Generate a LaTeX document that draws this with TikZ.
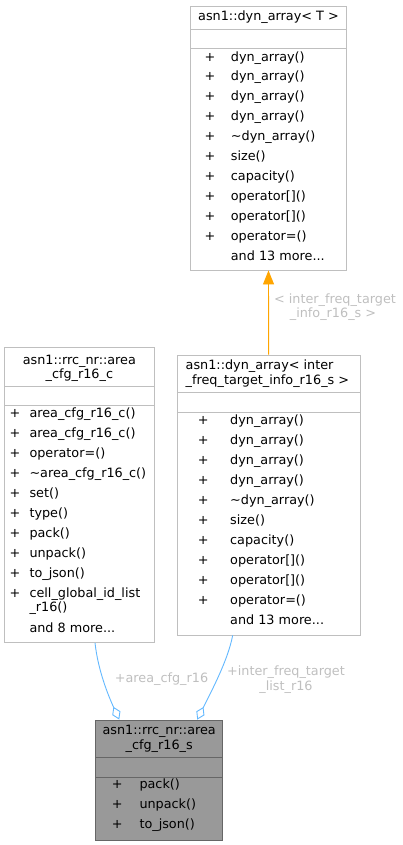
\documentclass[tikz,border=0pt]{standalone}
\usepackage{fontspec}
\setmainfont{DejaVu Sans}
\usetikzlibrary{arrows.meta}
\definecolor{boxline}{HTML}{BFBFBF}
\definecolor{lbl}{HTML}{BFBFBF}
\definecolor{edgeblue}{HTML}{63B8FF}
\definecolor{edgeorange}{HTML}{FFA500}
\definecolor{darkfill}{HTML}{999999}
\definecolor{darkline}{HTML}{666666}
\tikzset{
  cls/.style={draw=boxline, line width=0.9pt, fill=white, inner sep=0pt},
  clsdark/.style={draw=darkline, line width=0.9pt, fill=darkfill, inner sep=0pt},
  tx/.style={font=\fontsize{12.8}{15}\selectfont, inner sep=0pt, anchor=mid west},
  tc/.style={font=\fontsize{12.8}{15}\selectfont, inner sep=0pt, anchor=mid},
  pl/.style={font=\fontsize{12.8}{15}\selectfont, inner sep=0pt, anchor=mid},
  lab/.style={font=\fontsize{12.8}{15}\selectfont, inner sep=0pt, text=lbl, anchor=mid},
  sep/.style={draw=boxline, line width=0.9pt},
  sepdark/.style={draw=darkline, line width=0.9pt},
  agg/.style={draw=edgeblue, line width=0.9pt, {Diamond[open,length=14pt,width=9pt,line width=0.9pt]}-},
  inh/.style={draw=edgeorange, line width=0.9pt, -{Triangle[length=14pt,width=11pt]}},
}
\begin{document}
\begin{tikzpicture}[x=1pt,y=-1pt]
\useasboundingbox (0,0) rectangle (403,845);
% ---------- box T ----------
\node[cls, minimum width=156pt, minimum height=264pt] (T) at (268.5,138) {};
\draw[sep] (T.west |- 0,29.5) -- (T.east |- 0,29.5);
\draw[sep] (T.west |- 0,48) -- (T.east |- 0,48);
\node[tc] (t0) at (268.5,17.5) {asn1::dyn\_array< T >};
\foreach \i/\m in {0/dyn\_array(),1/dyn\_array(),2/dyn\_array(),3/dyn\_array(),4/\textasciitilde{}dyn\_array(),5/size(),6/capacity(),7/operator[](),8/operator[](),9/operator=()}{
  \node[pl] (tp\i) at (210,58.3+19.9*\i) {+};
  \node[tx] (tm\i) at (230.7,58.3+19.9*\i) {\m};
}
\node[tx] (tmore) at (230.7,257.3) {and 13 more...};
% ---------- box D ----------
\node[cls, minimum width=182.7pt, minimum height=280pt] (D) at (268.65,495) {};
\draw[sep] (D.west |- 0,392.7) -- (D.east |- 0,392.7);
\draw[sep] (D.west |- 0,412.7) -- (D.east |- 0,412.7);
\node[tx] (d0) at (185.5,366.7) {asn1::dyn\_array< inter};
\node[tx] (d1) at (185.5,381.7) {\_freq\_target\_info\_r16\_s >};
\foreach \i/\m in {0/dyn\_array(),1/dyn\_array(),2/dyn\_array(),3/dyn\_array(),4/\textasciitilde{}dyn\_array(),5/size(),6/capacity(),7/operator[](),8/operator[](),9/operator=()}{
  \node[pl] (dp\i) at (203.3,421.7+20*\i) {+};
  \node[tx] (dm\i) at (230,421.7+20*\i) {\m};
}
\node[tx] (dmore) at (230,621.7) {and 13 more...};
% ---------- box A ----------
\node[cls, minimum width=149.3pt, minimum height=295.4pt] (A) at (79.35,495) {};
\draw[sep] (A.west |- 0,386.7) -- (A.east |- 0,386.7);
\draw[sep] (A.west |- 0,405.7) -- (A.east |- 0,405.7);
\node[tc] (a0) at (79.35,361.7) {asn1::rrc\_nr::area};
\node[tc] (a1) at (79.35,375.5) {\_cfg\_r16\_c};
\foreach \i/\m in {0/area\_cfg\_r16\_c(),1/area\_cfg\_r16\_c(),2/operator=(),3/\textasciitilde{}area\_cfg\_r16\_c(),4/set(),5/type(),6/pack(),7/unpack(),8/to\_json(),9/cell\_global\_id\_list}{
  \node[pl] (ap\i) at (15,415+20*\i) {+};
  \node[tx] (am\i) at (29.3,415+20*\i) {\m};
}
\node[tx] (am10) at (29.3,608.3) {\_r16()};
\node[tx] (amore) at (29.3,630) {and 8 more...};
% ---------- box S ----------
\node[clsdark, minimum width=127pt, minimum height=120pt] (S) at (159.2,780) {};
\draw[sepdark] (S.west |- 0,757.3) -- (S.east |- 0,757.3);
\draw[sepdark] (S.west |- 0,777.3) -- (S.east |- 0,777.3);
\node[tc] (s0) at (159.2,731.7) {asn1::rrc\_nr::area};
\node[tc] (s1) at (159.2,746.5) {\_cfg\_r16\_s};
\foreach \i/\m in {0/pack(),1/unpack(),2/to\_json()}{
  \node[pl] (sp\i) at (117.3,786+20*\i) {+};
  \node[tx] (sm\i) at (139.3,786+20*\i) {\m};
}
% ---------- edges ----------
\draw[inh] (D.north) -- (T.south);
\node[lab] (l1a) at (335,300.5) {< inter\_freq\_target};
\node[lab] (l1b) at (333,315) {\_info\_r16\_s >};
\draw[agg] ([xshift=24pt]S.north west) .. controls (108,695) and (98,670) .. ([xshift=15.7pt]A.south);
\node[lab] (l2) at (161.5,680) {+area\_cfg\_r16};
\draw[agg] ([xshift=102pt]S.north west) .. controls (212,690) and (228,660) .. ([xshift=-36pt]D.south);
\node[lab] (l3a) at (286,673) {+inter\_freq\_target};
\node[lab] (l3b) at (286,688) {\_list\_r16};
\end{tikzpicture}
\end{document}
